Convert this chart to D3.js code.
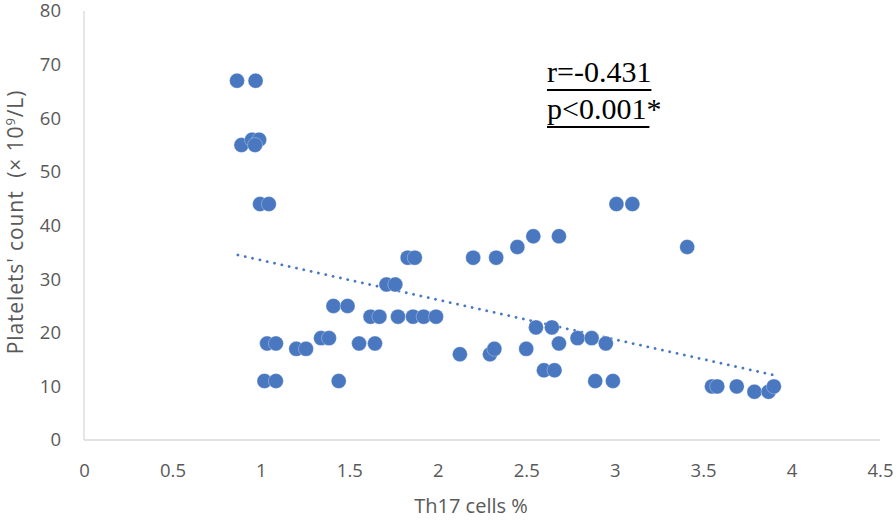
<!DOCTYPE html>
<html><head><meta charset="utf-8">
<script src="https://cdn.jsdelivr.net/npm/d3@7/dist/d3.min.js"></script>
<style>body{margin:0;background:#fff}svg{display:block}</style>
</head><body>
<svg id="c" width="896" height="521"></svg>
<script>
const th17 = [0.865,0.97,0.89,0.95,0.99,0.967,0.995,1.045,1.035,1.085,1.02,1.085,1.20,1.255,1.34,1.385,1.41,1.49,1.44,1.555,1.645,1.62,1.67,1.71,1.76,1.775,1.83,1.87,1.86,1.92,1.99,2.125,2.2,2.33,2.45,2.54,2.685,2.295,2.32,2.5,2.555,2.645,2.685,2.6,2.66,2.79,2.87,2.95,2.89,2.99,3.01,3.10,3.41,3.55,3.58,3.69,3.79,3.87,3.90];
const platelets = [67,67,55,56,56,55,44,44,18,18,11,11,17,17,19,19,25,25,11,18,18,23,23,29,29,23,34,34,23,23,23,16,34,34,36,38,38,16,17,17,21,21,18,13,13,19,19,18,11,11,44,44,36,10,10,10,9,9,10];
const trendX = [0.87, 3.9];
const trendY = [34.5, 12.1];
const xTicks = [0,0.5,1,1.5,2,2.5,3,3.5,4,4.5];
const yTicks = [0,10,20,30,40,50,60,70,80];
const statLines = ["r=-0.431","p<0.001*"];

const svg = d3.select("#c");
const x = d3.scaleLinear().domain([0,4.5]).range([84,880]);
const y = d3.scaleLinear().domain([0,80]).range([440,11]);
const font = "'Open Sans', 'Noto Sans', sans-serif";
const grey = "#595959";

// axis lines
svg.append("line").attr("x1",x(0)).attr("x2",x(0)).attr("y1",y(80)).attr("y2",y(0)).attr("stroke","#d9d9d9").attr("stroke-width",1.3);
svg.append("line").attr("x1",x(0)).attr("x2",x(4.5)).attr("y1",y(0)).attr("y2",y(0)).attr("stroke","#d9d9d9").attr("stroke-width",1.3);

// tick labels via axes
const xa = svg.append("g").attr("transform",`translate(0,${y(0)})`)
  .call(d3.axisBottom(x).tickValues(xTicks).tickSize(0).tickPadding(24).tickFormat(d3.format("")));
xa.select(".domain").remove();
xa.selectAll("text").attr("font-family",font).attr("font-size",18.5).attr("fill",grey);

const ya = svg.append("g").attr("transform",`translate(${x(0)},0)`)
  .call(d3.axisLeft(y).tickValues(yTicks).tickSize(0).tickPadding(23).tickFormat(d3.format("")));
ya.select(".domain").remove();
ya.selectAll("text").attr("font-family",font).attr("font-size",18.5).attr("fill",grey);

// axis titles
svg.append("text").attr("x",471).attr("y",513).attr("text-anchor","middle")
  .attr("font-family",font).attr("font-size",20).attr("fill",grey).text("Th17 cells %");
const yt = svg.append("text").attr("transform","translate(23,222) rotate(-90)").attr("text-anchor","middle")
  .attr("font-family",font).attr("font-size",21).attr("letter-spacing",0.9).attr("fill",grey);
yt.append("tspan").text("Platelets' count\u00a0 (× 10");
yt.append("tspan").attr("font-size",13).attr("dy",-8).text("9");
yt.append("tspan").attr("dy",8).text("/L)");

// trendline
svg.append("line")
  .attr("x1",x(trendX[0])).attr("y1",y(trendY[0]))
  .attr("x2",x(trendX[1])).attr("y2",y(trendY[1]))
  .attr("stroke","#4a78c0").attr("stroke-width",2.8)
  .attr("stroke-dasharray","0.1,7.4").attr("stroke-linecap","round");

// points
svg.append("g").selectAll("circle").data(th17.map((d,i)=>[d,platelets[i]])).join("circle")
  .attr("cx",d=>x(d[0])).attr("cy",d=>y(d[1])).attr("r",7.5)
  .attr("fill","#4a78c0").attr("stroke","#fff").attr("stroke-width",0.5).attr("stroke-opacity",0.6);

// stats annotation
statLines.forEach((t,i)=>{
  const by = 82 + i*37;
  const tx = svg.append("text").attr("x",547).attr("y",by)
    .attr("font-family","'Liberation Serif', 'Times New Roman', serif").attr("font-size",30).attr("fill","#000").text(t);
  const w = tx.node().getComputedTextLength();
  svg.append("line").attr("x1",547).attr("x2",547+w - (t.endsWith("*")?12:0)).attr("y1",by+8).attr("y2",by+8)
    .attr("stroke","#000").attr("stroke-width",2);
});
</script>
</body></html>
